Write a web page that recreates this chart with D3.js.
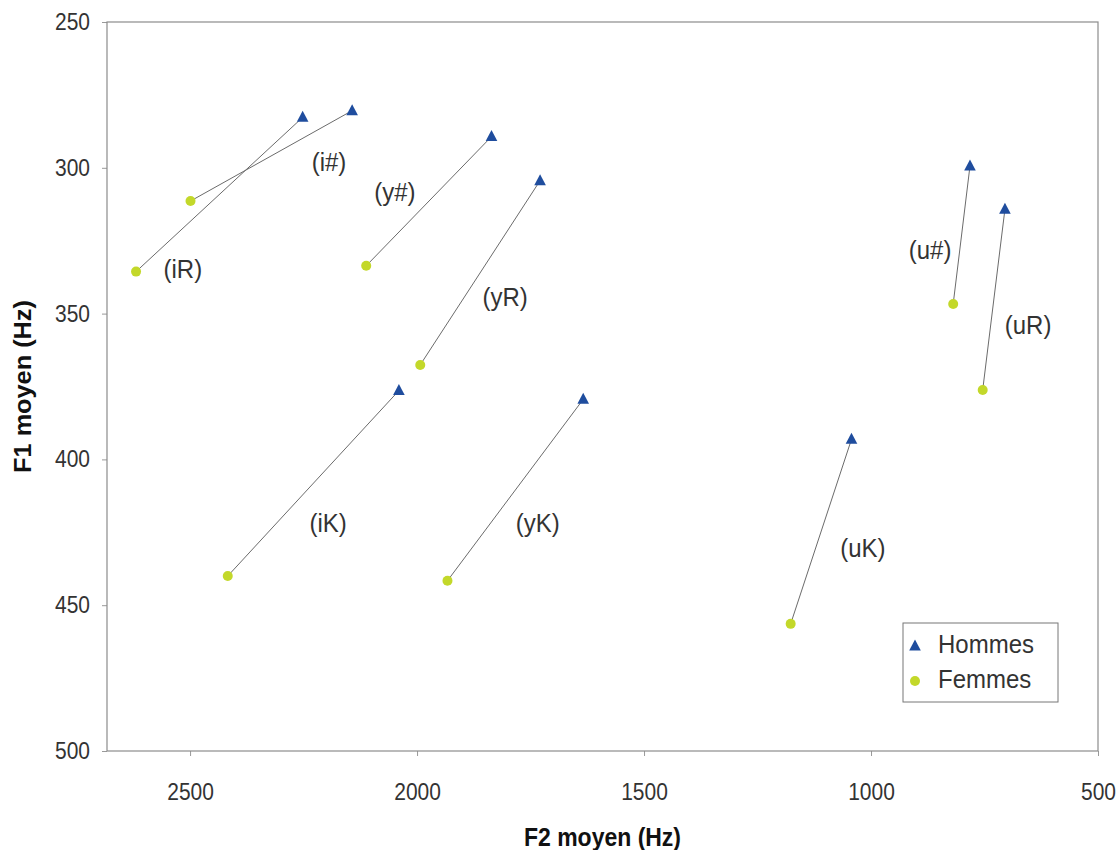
<!DOCTYPE html>
<html>
<head>
<meta charset="utf-8">
<script src="https://cdn.jsdelivr.net/npm/d3@7"></script>
<style>
  html, body { margin: 0; padding: 0; background: #fff; }
  svg { display: block; font-family: "Liberation Sans", Arial, sans-serif; }
</style>
</head>
<body>
<svg id="chart" width="1118" height="850"></svg>
<script>
// ---- data ----
const categories = ["(iR)", "(i#)", "(y#)", "(yR)", "(iK)", "(yK)", "(uK)", "(u#)", "(uR)"];
const hommesF2 = [2252, 2143, 1836, 1729, 2040, 1634, 1043, 782, 705];
const hommesF1 = [282.7, 280.4, 289.3, 304.4, 376.4, 379.4, 393.1, 299.4, 314.2];
const femmesF2 = [2619, 2499, 2112, 1993, 2417, 1933, 1177, 819, 754];
const femmesF1 = [335.6, 311.4, 333.6, 367.6, 440.0, 441.6, 456.4, 346.7, 376.2];
const labelF2 = [2516, 2194, 2049, 1806, 2196, 1734, 1018, 870, 654];
const labelF1 = [334.4, 298.0, 308.3, 344.3, 421.5, 421.5, 430.4, 328.2, 353.9];
const xTicks = [2500, 2000, 1500, 1000, 500];
const yTicks = [250, 300, 350, 400, 450, 500];
const seriesNames = ["Hommes", "Femmes"];
const xTitle = "F2 moyen (Hz)";
const yTitle = "F1 moyen (Hz)";

// ---- layout ----
const plot = { left: 107, right: 1098, top: 22, bottom: 751 };
const stretch = 1.1; // reference glyphs are slightly taller than wide
const svg = d3.select("#chart");

const x = d3.scaleLinear().domain([2683, 500]).range([plot.left, plot.right]);
const y = d3.scaleLinear().domain([250, 500]).range([plot.top, plot.bottom]);

const blue = "#1f4d9e";
const green = "#c3d82a";
const textCol = "#333";

// axes
const xAxis = svg.append("g")
  .attr("transform", `translate(0,${plot.bottom})`)
  .call(d3.axisBottom(x).tickValues(xTicks).tickSize(5).tickPadding(28).tickFormat(d3.format("d")));
const yAxis = svg.append("g")
  .attr("transform", `translate(${plot.left},0)`)
  .call(d3.axisLeft(y).tickValues(yTicks).tickSize(5).tickPadding(12).tickFormat(d3.format("d")));
[xAxis, yAxis].forEach(g => {
  g.select(".domain").remove();
  g.selectAll(".tick line").attr("stroke", "#999");
  g.selectAll(".tick text")
    .attr("fill", textCol)
    .style("font-size", "21px")
    .style("font-family", "'Liberation Sans', Arial, sans-serif");
});
// vertical stretch of tick labels, keeping their centres in place
xAxis.selectAll(".tick text")
  .attr("y", 33 / stretch)
  .attr("transform", `scale(1,${stretch})`);
yAxis.selectAll(".tick text")
  .attr("transform", `scale(1,${stretch})`);

// frame
svg.append("rect")
  .attr("x", plot.left).attr("y", plot.top)
  .attr("width", plot.right - plot.left).attr("height", plot.bottom - plot.top)
  .attr("fill", "none").attr("stroke", "#8c8c8c").attr("stroke-width", 1.2);

// connecting lines
const idx = d3.range(categories.length);
svg.append("g").selectAll("line").data(idx).join("line")
  .attr("x1", i => x(hommesF2[i])).attr("y1", i => y(hommesF1[i]))
  .attr("x2", i => x(femmesF2[i])).attr("y2", i => y(femmesF1[i]))
  .attr("stroke", "#6b6b6b").attr("stroke-width", 1);

// markers
const triPath = "M0,-6.5L5.8,4.5L-5.8,4.5Z";
svg.append("g").selectAll("path").data(idx).join("path")
  .attr("d", triPath)
  .attr("transform", i => `translate(${x(hommesF2[i])},${y(hommesF1[i])})`)
  .attr("fill", blue);
svg.append("g").selectAll("circle").data(idx).join("circle")
  .attr("cx", i => x(femmesF2[i])).attr("cy", i => y(femmesF1[i]))
  .attr("r", 5).attr("fill", green);

// category labels
svg.append("g").selectAll("text").data(idx).join("text")
  .attr("transform", i => `translate(${x(labelF2[i])},${y(labelF1[i])}) scale(1,${stretch})`)
  .attr("text-anchor", "middle").attr("dominant-baseline", "central")
  .attr("fill", textCol).style("font-size", "24px")
  .text(i => categories[i]);

// axis titles
svg.append("text")
  .attr("transform", `translate(${(plot.left + plot.right) / 2},837) scale(1,${stretch})`)
  .attr("text-anchor", "middle").attr("dominant-baseline", "central")
  .style("font-size", "23px").style("font-weight", "bold").attr("fill", "#111")
  .text(xTitle);
svg.append("text")
  .attr("transform", `translate(23,${(plot.top + plot.bottom) / 2}) rotate(-90) scale(${stretch},1)`)
  .attr("text-anchor", "middle").attr("dominant-baseline", "central")
  .style("font-size", "23px").style("font-weight", "bold").attr("fill", "#111")
  .text(yTitle);

// legend
const lg = svg.append("g").attr("transform", "translate(903,623)");
lg.append("rect").attr("width", 155).attr("height", 79)
  .attr("fill", "#fff").attr("stroke", "#777").attr("stroke-width", 1);
const legItems = lg.selectAll("g.item").data(seriesNames).join("g")
  .attr("class", "item")
  .attr("transform", (d, i) => `translate(12,${21 + i * 35})`);
legItems.each(function(d, i) {
  const g = d3.select(this);
  if (i === 0) g.append("path").attr("d", triPath).attr("transform", "translate(0,2)").attr("fill", blue);
  else g.append("circle").attr("r", 5).attr("cy", 2).attr("fill", green);
  g.append("text").attr("transform", `translate(23,0) scale(1,${stretch})`)
    .attr("dominant-baseline", "central")
    .attr("fill", textCol).style("font-size", "24px").text(d);
});
</script>
</body>
</html>
